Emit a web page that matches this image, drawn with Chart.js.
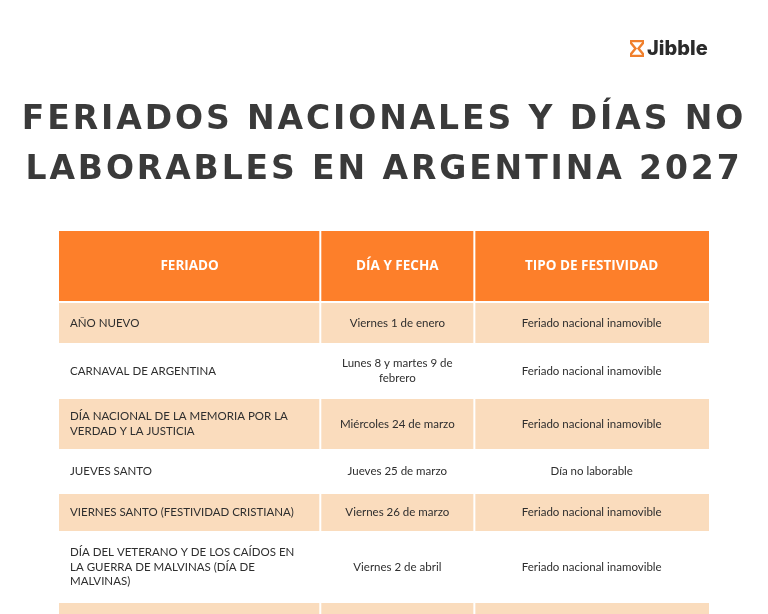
<!DOCTYPE html>
<html><head><meta charset="utf-8">
<script src="https://cdn.jsdelivr.net/npm/chart.js@4/dist/chart.umd.min.js"></script>
<style>
html,body{margin:0;padding:0;background:#fff;width:768px;height:614px;overflow:hidden;position:relative}
#title{position:absolute;left:0;width:768px;top:93px;text-align:center;font-family:"DejaVu Sans",sans-serif;font-weight:bold;font-size:33px;line-height:50px;letter-spacing:2.9px;color:#3a3a3a}
#logo{position:absolute;left:630px;top:36px;font-family:"Inter","DejaVu Sans",sans-serif;font-weight:800;font-size:20px;color:#2b2b2b;display:flex;align-items:center;gap:3px}
#wrap{position:absolute;left:0;top:0;width:768px;height:614px}
</style></head><body>
<div id="wrap"><canvas id="c" width="768" height="614"></canvas></div>
<div id="title">FERIADOS NACIONALES Y DÍAS NO<br>LABORABLES EN ARGENTINA 2027</div>
<div id="logo"><svg width="14" height="17" viewBox="0 0 14 17"><path d="M1 1H13V3L8.5 8.5L13 14V16H1V14L5.5 8.5L1 3Z" fill="none" stroke="#f07f2c" stroke-width="2.4"/></svg><span>Jibble</span></div>
<script>
// table content
const headers = ["FERIADO", "DÍA Y FECHA", "TIPO DE FESTIVIDAD"];
const feriados = [
  ["AÑO NUEVO"],
  ["CARNAVAL DE ARGENTINA"],
  ["DÍA NACIONAL DE LA MEMORIA POR LA", "VERDAD Y LA JUSTICIA"],
  ["JUEVES SANTO"],
  ["VIERNES SANTO (FESTIVIDAD CRISTIANA)"],
  ["DÍA DEL VETERANO Y DE LOS CAÍDOS EN", "LA GUERRA DE MALVINAS (DÍA DE", "MALVINAS)"],
  [""]
];
const fechas = [
  ["Viernes 1 de enero"],
  ["Lunes 8 y martes 9 de", "febrero"],
  ["Miércoles 24 de marzo"],
  ["Jueves 25 de marzo"],
  ["Viernes 26 de marzo"],
  ["Viernes 2 de abril"],
  [""]
];
const tipos = [
  ["Feriado nacional inamovible"],
  ["Feriado nacional inamovible"],
  ["Feriado nacional inamovible"],
  ["Día no laborable"],
  ["Feriado nacional inamovible"],
  ["Feriado nacional inamovible"],
  [""]
];
// column edges (table width units) and row edges (row units)
const colEdges = [0, 40.2, 63.9, 100];
const rowEdges = [0, 72, 114, 168, 220, 263, 302, 372, 420];

const ORANGE = "#fd7f2a", BEIGE = "#fadcbd";
const tablePlugin = {
  id: "table",
  afterDatasetsDraw(chart) {
    const ctx = chart.ctx, xs = chart.scales.x, ys = chart.scales.y;
    const rows = [headers.map(h => [h])].concat(feriados.map((f, i) => [f, fechas[i], tipos[i]]));
    ctx.save();
    ctx.beginPath(); ctx.rect(0, 0, chart.width, chart.height); ctx.clip();
    rows.forEach((row, r) => {
      const y0 = ys.getPixelForValue(rowEdges[r]), y1 = ys.getPixelForValue(rowEdges[r + 1]);
      const fill = r === 0 ? ORANGE : (r % 2 === 1 ? BEIGE : null);
      for (let c = 0; c < 3; c++) {
        const x0 = xs.getPixelForValue(colEdges[c]), x1 = xs.getPixelForValue(colEdges[c + 1]);
        if (fill) {
          ctx.fillStyle = fill;
          ctx.fillRect(x0 + (c ? 1 : 0), y0 + 1, x1 - x0 - (c ? 1 : 0) - (c < 2 ? 1 : 0), y1 - y0 - 2);
        }
        const lines = row[c];
        const lh = 14.5;
        const cy = (y0 + y1) / 2 - (lines.length - 1) * lh / 2;
        ctx.textBaseline = "middle";
        if (r === 0) {
          ctx.fillStyle = "#fff"; ctx.font = "bold 13.5px 'Open Sans', sans-serif"; ctx.textAlign = "center";
          ctx.fillText(lines[0], (x0 + x1) / 2, cy);
        } else {
          ctx.fillStyle = "#2e2e2e"; ctx.font = "11.5px Lato, sans-serif";
          lines.forEach((t, k) => {
            if (c === 0) { ctx.textAlign = "left"; ctx.fillText(t, x0 + 11, cy + k * lh); }
            else { ctx.textAlign = "center"; ctx.fillText(t, (x0 + x1) / 2, cy + k * lh); }
          });
        }
      }
    });
    ctx.restore();
  }
};

new Chart(document.getElementById("c"), {
  type: "scatter",
  data: { datasets: [{ data: [], pointRadius: 0 }] },
  options: {
    responsive: false, animation: false,
    layout: { padding: { left: 59, right: 59, top: 230, bottom: 0 } },
    plugins: { legend: { display: false }, tooltip: { enabled: false } },
    scales: {
      x: { type: "linear", min: 0, max: 100, display: false },
      y: { type: "linear", min: 0, max: 384, reverse: true, display: false }
    }
  },
  plugins: [tablePlugin]
});
</script>
</body></html>
